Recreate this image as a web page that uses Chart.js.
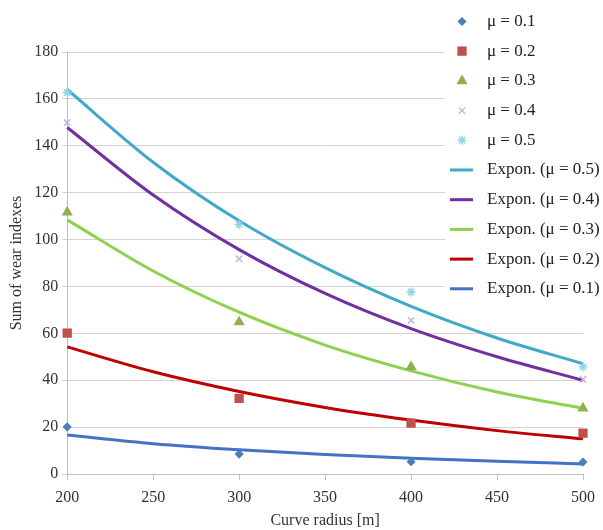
<!DOCTYPE html>
<html>
<head>
<meta charset="utf-8">
<script src="https://cdn.jsdelivr.net/npm/chart.js@4/dist/chart.umd.min.js"></script>
<style>
  html, body { margin: 0; padding: 0; background: #fff; }
  #wrap { position: relative; width: 603px; height: 530px; }
</style>
</head>
<body>
<div id="wrap"><canvas id="wearChart" width="603" height="530"></canvas></div>
<script>
// measured points (curve radius vs. sum of wear indexes)
const radii = [200, 300, 400, 500];
const mu01 = [20.1, 8.5, 5.2, 5.1];
const mu02 = [60.1, 32.3, 21.7, 17.4];
const mu03 = [111.6, 64.8, 45.7, 28];
const mu04 = [149.9, 91.8, 65.5, 40.4];
const mu05 = [162.7, 106.4, 77.6, 45.7];

// exponential trend lines
const trendX = [200, 250, 300, 350, 400, 450, 500];
const trend05 = [164, 133, 108, 88, 71.5, 58, 47];
const trend04 = [147.8, 119, 95.7, 77, 62, 50, 40];
const trend03 = [108.4, 86.6, 69, 55, 44, 35, 28];
const trend02 = [54.2, 43.6, 35.2, 28.4, 23, 18.5, 15];
const trend01 = [16.6, 12.9, 10.3, 8.3, 6.7, 5.4, 4.3];

const xTicks = [200, 250, 300, 350, 400, 450, 500];
const yTicks = [0, 20, 40, 60, 80, 100, 120, 140, 160, 180];

const serif = '"Liberation Serif", "DejaVu Serif", serif';

const toXY = (xs, ys) => xs.map((x, i) => ({ x: x, y: ys[i] }));

function pointSet(label, ys, color, style, radius) {
    return {
        label: label,
        data: toXY(radii, ys),
        showLine: false,
        clip: false,
        pointStyle: style,
        pointRadius: radius,
        pointHoverRadius: radius,
        pointBackgroundColor: color,
        pointBorderColor: color,
        pointBorderWidth: 1.5,
        borderColor: color,
        backgroundColor: color
    };
}

function trendSet(label, ys, color) {
    return {
        label: label,
        data: toXY(trendX, ys),
        showLine: true,
        clip: false,
        borderColor: color,
        backgroundColor: color,
        borderWidth: 3,
        pointRadius: 0,
        pointHoverRadius: 0,
        cubicInterpolationMode: 'monotone',
        isTrend: true
    };
}

// white legend box drawn over the top right corner, like the spreadsheet original
const legendBox = {
    id: 'legendBox',
    afterDraw(chart) {
        const ctx = chart.ctx;
        ctx.save();
        ctx.fillStyle = '#fff';
        ctx.fillRect(445, 0, 158, 304);
        ctx.font = '17px ' + serif;
        ctx.textBaseline = 'middle';
        chart.data.datasets.forEach((ds, i) => {
            const y = 21.5 + i * 29.7;
            if (ds.isTrend) {
                ctx.strokeStyle = ds.borderColor;
                ctx.lineWidth = 3;
                ctx.beginPath();
                ctx.moveTo(450, y);
                ctx.lineTo(473, y);
                ctx.stroke();
            } else {
                ctx.fillStyle = ds.pointBackgroundColor;
                ctx.strokeStyle = ds.pointBorderColor;
                ctx.lineWidth = ds.pointBorderWidth;
                Chart.helpers.drawPoint(ctx, {
                    pointStyle: ds.pointStyle,
                    radius: ds.pointRadius,
                    borderWidth: ds.pointBorderWidth,
                    rotation: 0
                }, 462, y);
            }
            ctx.fillStyle = '#222';
            ctx.fillText(ds.label, 487, y);
        });
        ctx.restore();
    }
};

new Chart(document.getElementById('wearChart'), {
    type: 'scatter',
    data: {
        datasets: [
            pointSet('μ = 0.1', mu01, '#4a7ebb', 'rectRot', 3.5),
            pointSet('μ = 0.2', mu02, '#c0504d', 'rect', 5.5),
            pointSet('μ = 0.3', mu03, '#8fb04e', 'triangle', 5),
            pointSet('μ = 0.4', mu04, '#c3b6dc', 'crossRot', 4.5),
            pointSet('μ = 0.5', mu05, '#93d3e6', 'star', 4.5),
            trendSet('Expon. (μ = 0.5)', trend05, '#40a9c9'),
            trendSet('Expon. (μ = 0.4)', trend04, '#7030a0'),
            trendSet('Expon. (μ = 0.3)', trend03, '#8fd14f'),
            trendSet('Expon. (μ = 0.2)', trend02, '#c00000'),
            trendSet('Expon. (μ = 0.1)', trend01, '#4472c4')
        ]
    },
    options: {
        responsive: false,
        animation: false,
        layout: { padding: { top: 52, right: 20, left: 7, bottom: 0 } },
        plugins: {
            legend: { display: false },
            tooltip: { enabled: false }
        },
        scales: {
            x: {
                type: 'linear',
                min: 200, max: 500,
                afterBuildTicks: (scale) => { scale.ticks = xTicks.map(v => ({ value: v })); },
                afterFit: (scale) => { scale.height = 56; },
                grid: {
                    drawOnChartArea: false,
                    drawTicks: true,
                    tickLength: 6,
                    color: '#bfbfbf'
                },
                border: { color: '#bfbfbf' },
                ticks: { color: '#333', font: { family: serif, size: 16 }, padding: 8, maxRotation: 0 },
                title: { display: true, text: 'Curve radius [m]', color: '#333', font: { family: serif, size: 16 }, padding: { top: 0, bottom: 0 } }
            },
            y: {
                type: 'linear',
                min: 0, max: 180,
                afterBuildTicks: (scale) => { scale.ticks = yTicks.map(v => ({ value: v })); },
                grid: { color: '#d4d4d4', tickLength: 5 },
                border: { color: '#bfbfbf' },
                ticks: { color: '#333', font: { family: serif, size: 16 }, padding: 4 },
                title: { display: true, text: 'Sum of wear indexes', color: '#333', font: { family: serif, size: 16 }, padding: { top: 0, bottom: 4 } }
            }
        }
    },
    plugins: [legendBox]
});
</script>
</body>
</html>
